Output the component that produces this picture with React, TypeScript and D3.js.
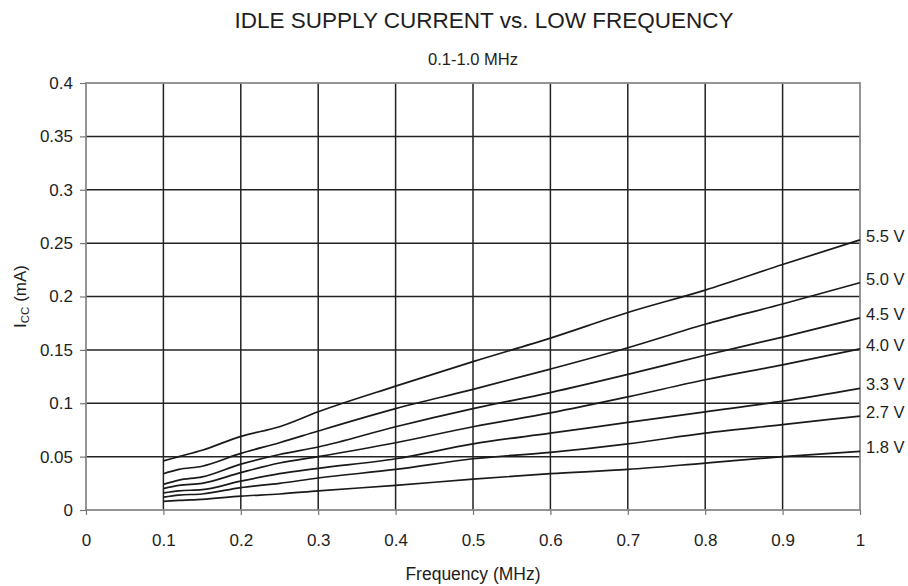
import React, { useEffect, useRef } from 'react'
import * as d3 from 'd3'

// frequency points (MHz) shared by every curve
const freqs = [0.1, 0.12, 0.15, 0.2, 0.25, 0.3, 0.4, 0.5, 0.6, 0.7, 0.8, 0.9, 1.0]

const voltages = ['5.5 V', '5.0 V', '4.5 V', '4.0 V', '3.3 V', '2.7 V', '1.8 V']

// Icc (mA) per supply voltage
const icc55 = [0.046, 0.050, 0.056, 0.069, 0.078, 0.092, 0.116, 0.139, 0.161, 0.185, 0.206, 0.230, 0.253]
const icc50 = [0.034, 0.038, 0.041, 0.053, 0.063, 0.074, 0.095, 0.113, 0.132, 0.152, 0.174, 0.193, 0.213]
const icc45 = [0.024, 0.028, 0.031, 0.043, 0.052, 0.059, 0.078, 0.095, 0.110, 0.127, 0.145, 0.162, 0.180]
const icc40 = [0.020, 0.023, 0.025, 0.035, 0.044, 0.050, 0.063, 0.078, 0.091, 0.106, 0.122, 0.136, 0.151]
const icc33 = [0.016, 0.018, 0.019, 0.027, 0.034, 0.039, 0.048, 0.062, 0.072, 0.082, 0.092, 0.102, 0.114]
const icc27 = [0.012, 0.014, 0.015, 0.021, 0.025, 0.030, 0.038, 0.048, 0.054, 0.062, 0.072, 0.080, 0.088]
const icc18 = [0.008, 0.009, 0.010, 0.013, 0.015, 0.018, 0.023, 0.029, 0.034, 0.038, 0.044, 0.050, 0.055]

const series = [icc55, icc50, icc45, icc40, icc33, icc27, icc18]

const xTicks = [0, 0.1, 0.2, 0.3, 0.4, 0.5, 0.6, 0.7, 0.8, 0.9, 1]
const yTicks = [0, 0.05, 0.1, 0.15, 0.2, 0.25, 0.3, 0.35, 0.4]

const W = 908
const H = 586
const margin = { left: 86, right: 48, top: 83, bottom: 76 }
const font = 'Liberation Sans, Arial, sans-serif'
const ink = '#1e1e1e'

function App() {
    const ref = useRef<SVGSVGElement>(null)

    useEffect(() => {
        const svg = d3.select(ref.current)
        svg.selectAll('*').remove()

        const x = d3.scaleLinear().domain([0, 1]).range([margin.left, W - margin.right])
        const y = d3.scaleLinear().domain([0, 0.4]).range([H - margin.bottom, margin.top])

        svg.append('rect').attr('width', W).attr('height', H).attr('fill', 'white')

        // grid
        const grid = svg.append('g').attr('stroke', '#222').attr('stroke-width', 1.5)
        grid.selectAll('.gx')
            .data(xTicks.filter(d => d > 0 && d < 1))
            .join('line')
            .attr('class', 'gx')
            .attr('x1', d => x(d)).attr('x2', d => x(d))
            .attr('y1', y(0)).attr('y2', y(0.4))
        grid.selectAll('.gy')
            .data(yTicks.filter(d => d > 0 && d < 0.4))
            .join('line')
            .attr('class', 'gy')
            .attr('x1', x(0)).attr('x2', x(1))
            .attr('y1', d => y(d)).attr('y2', d => y(d))

        // border / axes (gray)
        svg.append('rect')
            .attr('x', x(0)).attr('y', y(0.4))
            .attr('width', x(1) - x(0)).attr('height', y(0) - y(0.4))
            .attr('fill', 'none').attr('stroke', '#8a8a8a').attr('stroke-width', 1.8)

        // x axis
        const xAxis = svg.append('g')
            .attr('transform', `translate(0,${y(0)})`)
            .call(d3.axisBottom(x).tickValues(xTicks).tickSize(5).tickPadding(19).tickFormat(d3.format('')))
        xAxis.select('.domain').remove()
        xAxis.selectAll('.tick line').attr('stroke', '#777').attr('stroke-width', 1.2)
        xAxis.selectAll('.tick text')
            .attr('font-family', font).attr('font-size', 17).attr('fill', ink)

        // y axis
        const yAxis = svg.append('g')
            .attr('transform', `translate(${x(0)},0)`)
            .call(d3.axisLeft(y).tickValues(yTicks).tickSize(6).tickPadding(7).tickFormat(d3.format('')))
        yAxis.select('.domain').remove()
        yAxis.selectAll('.tick line').attr('stroke', '#777').attr('stroke-width', 1.2)
        yAxis.selectAll('.tick text')
            .attr('font-family', font).attr('font-size', 17).attr('fill', ink)

        // curves
        const line = d3.line<number>()
            .x((_d, i) => x(freqs[i]))
            .y(d => y(d))
            .curve(d3.curveMonotoneX)

        svg.append('g')
            .selectAll('path')
            .data(series)
            .join('path')
            .attr('fill', 'none')
            .attr('stroke', '#1a1a1a')
            .attr('stroke-width', 1.7)
            .attr('d', d => line(d))

        // voltage labels at the right end
        svg.append('g')
            .selectAll('text')
            .data(series)
            .join('text')
            .attr('x', x(1) + 6)
            .attr('y', d => y(d[d.length - 1]) + 2)
            .attr('font-family', font).attr('font-size', 16.5).attr('fill', ink)
            .text((_d, i) => voltages[i])

        // titles
        svg.append('text')
            .attr('x', 484).attr('y', 28)
            .attr('text-anchor', 'middle')
            .attr('font-family', font).attr('font-size', 22.5).attr('fill', ink)
            .text('IDLE SUPPLY CURRENT vs. LOW FREQUENCY')

        svg.append('text')
            .attr('x', (x(0) + x(1)) / 2).attr('y', 65)
            .attr('text-anchor', 'middle')
            .attr('font-family', font).attr('font-size', 16.5).attr('fill', ink)
            .text('0.1-1.0 MHz')

        svg.append('text')
            .attr('x', (x(0) + x(1)) / 2).attr('y', 580)
            .attr('text-anchor', 'middle')
            .attr('font-family', font).attr('font-size', 17.5).attr('fill', ink)
            .text('Frequency (MHz)')

        const yt = svg.append('text')
            .attr('transform', `translate(26,${(y(0) + y(0.4)) / 2}) rotate(-90)`)
            .attr('text-anchor', 'middle')
            .attr('font-family', font).attr('font-size', 17).attr('fill', ink)
        yt.append('tspan').text('I')
        yt.append('tspan').attr('font-size', 11.5).attr('dy', 3).text('CC')
        yt.append('tspan').attr('dy', -3).text(' (mA)')
    }, [])

    return (
        <svg ref={ref} width={W} height={H}
            style={{ position: 'absolute', left: 0, top: 0, display: 'block' }} />
    )
}

export default App
